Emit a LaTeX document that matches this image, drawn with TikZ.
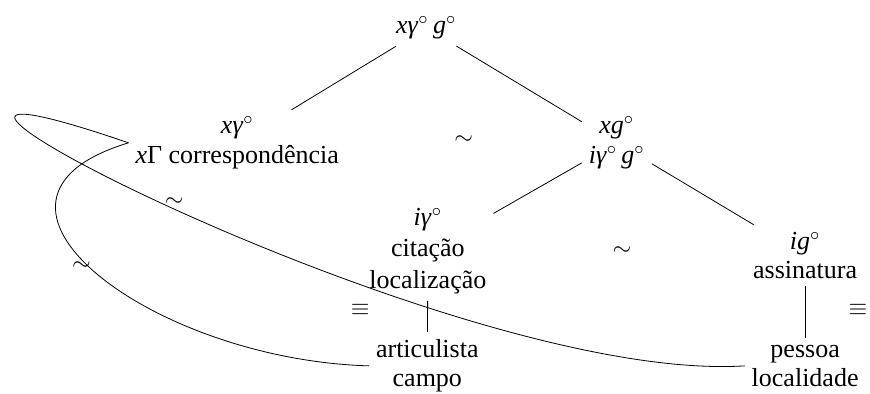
\documentclass[tikz,border=0pt]{standalone}
\usepackage{fontspec}
\setmainfont{Liberation Serif}

\newcommand{\vr}[1]{\textit{#1}}
\newcommand{\dg}{\ensuremath{^\circ}}

\begin{document}
\begin{tikzpicture}[font=\fontsize{13}{14.8}\selectfont]
        \useasboundingbox (0,0) rectangle (15.29,6.92);

        % Tree
        \node[align=center] (root) at (7.49,6.43) {\vr{xγ}\dg\,\vr{g}\dg};
        \node[align=center] (corr) at (4.17,4.41) {\vr{xγ}\dg\\ \vr{x}Γ correspondência};
        \node[align=center] (xg) at (10.84,4.41) {\vr{xg}\dg\\ \vr{iγ}\dg\,\vr{g}\dg};
        \node[align=center] (cit) at (7.52,2.51) {\vr{iγ}\dg\\[1pt] citação\\[1pt] localização};
        \node[align=center] (assin) at (14.15,2.43) {\vr{ig}\dg\\ assinatura};
        \node[align=center] (art) at (7.51,0.49) {articulista\\ campo};
        \node[align=center] (pess) at (14.15,0.49) {pessoa\\ localidade};

        \draw (root) -- (corr);
        \draw (root) -- (xg);
        \draw (xg) -- (cit);
        \draw (xg) -- (assin);
        \draw (cit) -- (art);
        \draw (assin) -- (pess);

        % Relations
        \node (t1) at (8.15,4.46) {$\sim$};
        \node (t2) at (10.93,2.50) {$\sim$};
        \node (t3) at (3.06,3.36) {$\sim$};
        \node (t4) at (1.43,2.25) {$\sim$};
        \node (e1) at (6.33,1.48) {$\equiv$};
        \node (e2) at (15.08,1.48) {$\equiv$};

        % Curves
        \draw (corr.west) .. controls (-4.57,6.75) and (7.86,0.16) .. (pess.west);
        \draw (corr.west) .. controls (-1.05,3.41) and (2.64,0.60) .. (art.west);
    \end{tikzpicture}
\end{document}
